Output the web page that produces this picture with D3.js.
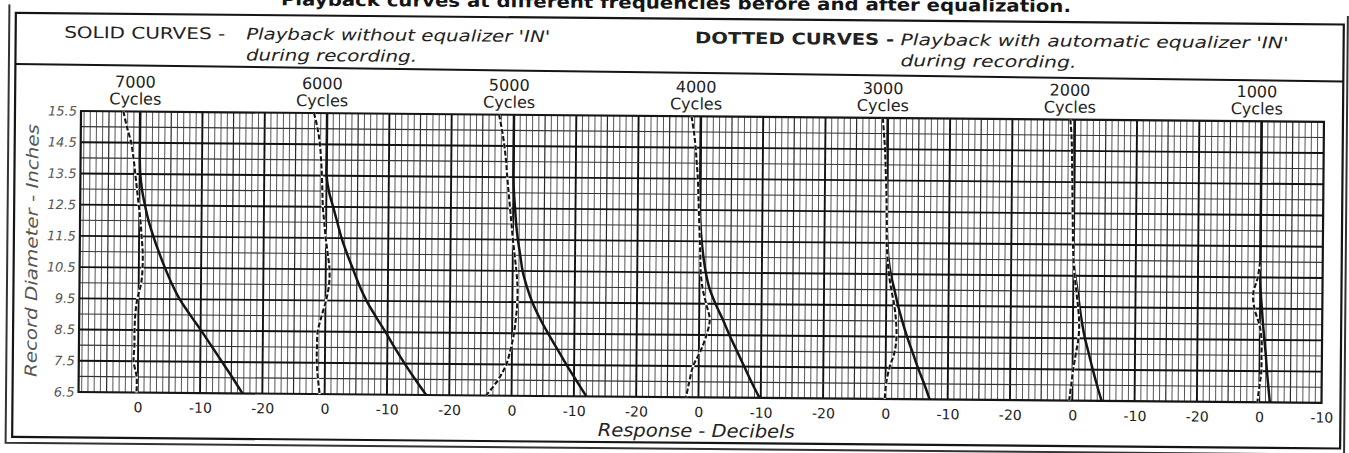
<!DOCTYPE html>
<html><head><meta charset="utf-8">
<script src="https://cdn.jsdelivr.net/npm/d3@7"></script>
<style>
html,body{margin:0;padding:0;background:#fff;}
svg{display:block;}
</style></head><body>
<svg id="chart" width="1349" height="453"></svg>
<script>
// ---------------- data ----------------
const diameters = [15.5,15.0,14.5,14.0,13.5,13.0,12.5,12.0,11.5,11.0,10.5,10.0,9.5,9.0,8.5,8.0,7.5,7.0,6.5];
const frequencies = ["7000","6000","5000","4000","3000","2000","1000"];
// response in dB relative to each frequency's own zero line, one value per diameter
const solid7000  = [0,0,0,0,-0.1,-0.4,-0.9,-1.5,-2.3,-3.2,-4.2,-5.3,-6.6,-8.3,-10.1,-11.8,-13.5,-15.2,-16.8];
const dotted7000 = [2.7,2.1,1.4,1.0,0.7,0.4,0.1,-0.2,-0.4,-0.6,-0.6,-0.4,0.2,0.5,0.6,0.6,0.7,0.2,0.2];
const solid6000  = [0,0,0,0,0,-0.4,-1.1,-1.8,-2.5,-3.4,-4.4,-5.4,-6.6,-8.1,-9.7,-11.2,-12.8,-14.5,-16.3];
const dotted6000 = [2.1,1.5,1.1,0.9,0.75,0.65,0.55,0.3,0.05,-0.3,-0.6,-0.55,-0.1,0.6,1.2,1.3,1.3,1.1,0.8];
const solid5000  = [0,0,0,0,0,-0.1,-0.3,-0.5,-0.8,-1.2,-1.6,-2.3,-3.2,-4.4,-5.8,-7.3,-8.8,-10.4,-12.0];
const dotted5000 = [2.4,1.9,1.5,1.2,1.0,0.75,0.5,0.25,0.0,-0.3,-0.6,-0.8,-0.8,-0.6,-0.3,0.2,0.9,2.2,4.1];
const solid4000  = [0,0,0,0,0,0,0,-0.1,-0.3,-0.6,-1.0,-1.6,-2.6,-3.8,-4.9,-6.1,-7.3,-8.5,-9.8];
const dotted4000 = [1.5,1.1,0.8,0.6,0.4,0.3,0.2,0.1,0.0,-0.1,-0.2,-0.5,-1.1,-1.7,-1.2,-0.3,0.9,1.5,2.0];
const solid3000  = [0,0,0,0,0,0,0,0,-0.1,-0.3,-0.7,-1.3,-1.9,-2.6,-3.4,-4.3,-5.2,-6.2,-7.1];
const dotted3000 = [0.8,0.6,0.4,0.3,0.2,0.1,0.05,0,0,-0.15,-0.4,-0.8,-1.3,-1.6,-1.7,-1.4,-0.6,-0.1,0.1];
const solid2000  = [0,0,0,0,0,0,0,0,0,0,-0.3,-0.7,-1.05,-1.45,-1.95,-2.6,-3.25,-3.95,-4.7];
const dotted2000 = [0.7,0.5,0.4,0.35,0.3,0.25,0.2,0.15,0.1,0.0,-0.2,-0.5,-0.8,-1.0,-0.9,-0.5,-0.1,0.2,0.5];
const solid1000  = [0,0,0,0,0,0,0,0,0,0,0,-0.1,-0.3,-0.5,-0.75,-1.0,-1.2,-1.45,-1.7];
const dotted1000 = [null,null,null,null,null,null,null,null,null,0.05,0.4,1.1,0.9,0.1,-0.3,-0.3,-0.3,0.0,0.3];

const yTickValues = [15.5,14.5,13.5,12.5,11.5,10.5,9.5,8.5,7.5,6.5];
const yTickLabels = ["15.5","14.5","13.5","12.5","11.5","10.5","9.5","8.5","7.5","6.5"];
const xTickLabels = ["0","-10","-20"];

const titleText = "Playback curves at different frequencies before and after equalization.";
const solidLegend = ["SOLID CURVES -", "Playback without equalizer 'IN'", "during recording."];
const dottedLegend = ["DOTTED CURVES -", "Playback with automatic equalizer 'IN'", "during recording."];
const yTitle = "Record Diameter - Inches";
const xTitle = "Response - Decibels";

const solidSeries = [solid7000, solid6000, solid5000, solid4000, solid3000, solid2000, solid1000];
const dottedSeries = [dotted7000, dotted6000, dotted5000, dotted4000, dotted3000, dotted2000, dotted1000];

// ---------------- layout ----------------
const X0 = 81, Y0 = 111, W = 1243, H = 281;
const FONT = "'DejaVu Sans', sans-serif";
const INK = "#151515";

const svg = d3.select("#chart");
const root = svg.append("g").attr("transform", `rotate(0.5 ${X0} ${Y0})`);

// title (cut by the top of the picture, as in the scan)
root.append("text").attr("x", 280).attr("y", 3.5)
  .attr("textLength", 790).attr("lengthAdjust", "spacingAndGlyphs")
  .style("font", `bold 17px ${FONT}`).attr("fill", INK).text(titleText);

// frames
root.append("path").attr("d", "M8.5,5 V443.5 H1347 V5")
  .attr("fill", "none").attr("stroke", "#333").attr("stroke-width", 2);
root.append("rect").attr("x", 15).attr("y", 13.5).attr("width", 1328).attr("height", 424)
  .attr("fill", "none").attr("stroke", INK).attr("stroke-width", 2.2);
root.append("line").attr("x1", 15).attr("y1", 64.5).attr("x2", 1343).attr("y2", 70.5)
  .attr("stroke", INK).attr("stroke-width", 2);

// legend
function legend(x1, x2, items, bold, lens) {
  root.append("text").attr("x", x1).attr("y", 38)
    .attr("textLength", lens[0]).attr("lengthAdjust", "spacingAndGlyphs")
    .style("font", `${bold ? "bold " : ""}16px ${FONT}`).attr("fill", "#222").text(items[0]);
  root.append("text").attr("x", x2).attr("y", 38)
    .attr("textLength", lens[1]).attr("lengthAdjust", "spacingAndGlyphs")
    .style("font", `italic 16px ${FONT}`).attr("fill", "#222").text(items[1]);
  root.append("text").attr("x", x2).attr("y", 59)
    .attr("textLength", lens[2]).attr("lengthAdjust", "spacingAndGlyphs")
    .style("font", `italic 16px ${FONT}`).attr("fill", "#222").text(items[2]);
}
legend(63.5, 245.5, solidLegend, false, [161, 304, 171]);
legend(694.5, 900, dottedLegend, true, [199, 388, 176]);

// scales
const x = d3.scaleLinear().domain([9.5, -190]).range([0, W]);
const y = d3.scaleLinear().domain([6.5, 15.5]).range([H, 0]);

const plot = root.append("g").attr("transform", `translate(${X0},${Y0})`);
plot.append("rect").attr("width", W).attr("height", H).attr("fill", "#fff");

// grid
const vVals = d3.range(-189, 10, 1);
plot.append("g").selectAll("line").data(vVals).join("line")
  .attr("x1", d => x(d)).attr("x2", d => x(d)).attr("y1", 0).attr("y2", H)
  .attr("stroke", d => d % 10 === 0 ? "#111" : (d % 5 === 0 ? "#2a2a2a" : "#444"))
  .attr("stroke-width", d => d % 10 === 0 ? 1.9 : (d % 5 === 0 ? 1.2 : 0.9));
const hVals = d3.range(7, 15.5, 0.5);
plot.append("g").selectAll("line").data(hVals).join("line")
  .attr("x1", 0).attr("x2", W).attr("y1", d => y(d)).attr("y2", d => y(d))
  .attr("stroke", d => (d % 1 === 0.5) ? "#111" : "#333")
  .attr("stroke-width", d => (d % 1 === 0.5) ? 1.9 : 1.1);
plot.append("rect").attr("width", W).attr("height", H)
  .attr("fill", "none").attr("stroke", INK).attr("stroke-width", 2.2);

// curves
function lineFor(base) {
  return d3.line()
    .defined(d => d[1] !== null)
    .x(d => x(base + d[1])).y(d => y(d[0]))
    .curve(d3.curveCatmullRom.alpha(0.5));
}
frequencies.forEach((f, i) => {
  const base = -30 * i;
  const gen = lineFor(base);
  const sData = diameters.map((d, j) => [d, solidSeries[i][j]]);
  const dData = diameters.map((d, j) => [d, dottedSeries[i][j]]);
  plot.append("path").attr("d", gen(sData)).attr("fill", "none")
    .attr("stroke", INK).attr("stroke-width", 2.5).attr("stroke-linejoin", "round");
  plot.append("path").attr("d", gen(dData)).attr("fill", "none")
    .attr("stroke", "#fff").attr("stroke-width", 2.4);
  plot.append("path").attr("d", gen(dData)).attr("fill", "none")
    .attr("stroke", INK).attr("stroke-width", 2.1).attr("stroke-dasharray", "5 2.3");
});

// frequency labels
const fl = root.append("g").attr("transform", `translate(${X0},0)`)
  .style("font", `16px ${FONT}`).attr("fill", "#222").attr("text-anchor", "middle");
frequencies.forEach((f, i) => {
  const cx = x(-30 * i) - 5;
  fl.append("text").attr("x", cx).attr("y", 87).text(f);
  fl.append("text").attr("x", cx).attr("y", 104).text("Cycles");
});

// axes
const xAxis = d3.axisBottom(x)
  .tickValues(d3.range(0, -191, -10))
  .tickFormat(v => xTickLabels[Math.round(-v / 10) % 3])
  .tickSize(0).tickPadding(9.8);
const gx = plot.append("g").attr("transform", `translate(0,${H})`).call(xAxis);
gx.select(".domain").remove();
gx.selectAll("text").style("font", `14px ${FONT}`).attr("fill", "#222");

const yAxis = d3.axisLeft(y)
  .tickValues(yTickValues)
  .tickFormat(v => yTickLabels[yTickValues.indexOf(v)])
  .tickSize(0).tickPadding(4);
const gy = plot.append("g").call(yAxis);
gy.select(".domain").remove();
gy.selectAll("text").style("font", `italic 13px ${FONT}`).attr("fill", "#555");

// axis titles
root.append("text").attr("transform", "translate(38.7,251) rotate(-90)")
  .attr("text-anchor", "middle").attr("textLength", 253).attr("lengthAdjust", "spacingAndGlyphs")
  .style("font", `italic 16.5px ${FONT}`).attr("fill", "#555").text(yTitle);
root.append("text").attr("x", 699).attr("y", 431.6)
  .attr("text-anchor", "middle").attr("textLength", 197).attr("lengthAdjust", "spacingAndGlyphs")
  .style("font", `italic 18px ${FONT}`).attr("fill", "#222").text(xTitle);
</script>
</body></html>
